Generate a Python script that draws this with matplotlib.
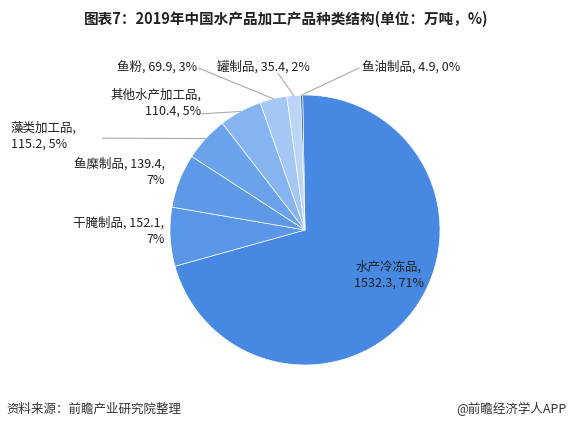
import numpy as np
import matplotlib.pyplot as plt

plt.rcParams['font.family'] = ['Noto Sans CJK SC', 'DejaVu Sans']

# ------------------ DATA ------------------
CATEGORIES = ['水产冷冻品', '干腌制品', '鱼糜制品', '藻类加工品', '其他水产加工品', '鱼粉', '罐制品', '鱼油制品']
VALUES = [1532.3, 152.1, 139.4, 115.2, 110.4, 69.9, 35.4, 4.9]
PERCENTS = ['71%', '7%', '7%', '5%', '5%', '3%', '2%', '0%']

# ------------------ STYLE ------------------
COLORS = ['#4688e2', '#5996e8', '#5e99e8', '#6aa2ec', '#86b4f0', '#a4c7f4', '#bcd5f6', '#1e4f9c']
LABEL_TEXT = [
    '水产冷冻品,\n1532.3, 71%',
    '干腌制品, 152.1,\n7%',
    '鱼糜制品, 139.4,\n7%',
    '藻类加工品,\n115.2, 5%',
    '其他水产加工品,\n110.4, 5%',
    '鱼粉, 69.9, 3%',
    '罐制品, 35.4, 2%',
    '鱼油制品, 4.9, 0%',
]
LABEL_POS = [(0.62, -0.33), (-1.04, -0.01), (-1.04, 0.43), (-2.18, 0.70),
             (-0.77, 0.94), (-0.8, 1.21), (-0.31, 1.21), (0.42, 1.21)]
LABEL_HA = ['center', 'right', 'right', 'left', 'right', 'right', 'center', 'left']
LEADER = [False, False, False, True, True, True, True, True]
LEADER_END = [None, None, None, (-1.5, 0.68), (-0.77, 0.86), (-0.79, 1.2), (-0.2, 1.16), (0.40, 1.2)]

fig = plt.figure(figsize=(5.72, 4.26), dpi=100)
ax = fig.add_axes([(305 - 135) / 572, (426 - 230 - 135) / 426, 270 / 572, 270 / 426])

wedges, _ = ax.pie(VALUES, colors=COLORS, startangle=91, counterclock=False,
                   wedgeprops=dict(edgecolor='white', linewidth=0.5))
ax.set_xlim(-1, 1)
ax.set_ylim(-1, 1)
ax.set_aspect('equal')
ax.axis('off')

for i, w in enumerate(wedges):
    x, y = LABEL_POS[i]
    ax.text(x, y, LABEL_TEXT[i], ha=LABEL_HA[i], va='center', fontsize=9,
            color='#222222', clip_on=False, linespacing=1.3)
    if LEADER[i]:
        ang = np.deg2rad((w.theta1 + w.theta2) / 2)
        sx, sy = np.cos(ang), np.sin(ang)
        ex, ey = LEADER_END[i]
        ax.plot([sx, ex], [sy, ey], color='#aaaaaa', linewidth=0.8, clip_on=False)

fig.text(0.5, 0.955, '图表7：2019年中国水产品加工产品种类结构(单位：万吨，%)',
         ha='center', va='center', fontsize=10.5, fontweight='bold', color='#222222')
fig.text(0.012, 0.04, '资料来源：前瞻产业研究院整理', ha='left', va='center', fontsize=9, color='#333333')
fig.text(0.99, 0.04, '@前瞻经济学人APP', ha='right', va='center', fontsize=9, color='#333333')

fig.savefig('out.png', dpi=100)
